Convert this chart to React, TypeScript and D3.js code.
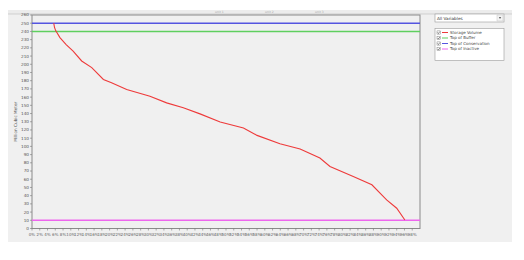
import * as d3 from "d3";

// exceedance percent (x) and storage volume (y)
const exceedance = [5.6, 5.8, 6.1, 7.2, 8.8, 10.6, 12.8, 15.4, 18.4, 20.5, 24.4, 30.4, 34.7, 39.0, 43.3, 48.5, 54.5, 58.0, 63.9, 69.1, 74.2, 76.8, 82.8, 87.6, 91.4, 94.0, 96.1];
const storage = [250, 245, 241, 232.5, 224, 216, 204, 196, 181.5, 177.5, 169.3, 161, 153, 147, 139.6, 129.8, 122.5, 113.4, 103.3, 96.8, 85.8, 75.5, 63.3, 53.2, 34.8, 24.7, 10.4];

const levelNames = ["Storage Volume", "Top of Buffer", "Top of Conservation", "Top of Inactive"];
const levelColors = ["#ee3a3a", "#5fcf5f", "#5555e0", "#ee66ee"];
const levelValues = [null, 240, 250, 10];

const yTicks = d3.range(0, 261, 10);
const xTicks = d3.range(0, 99, 2);

const W = 524;
const H = 260;
const plot = { left: 32, right: 420, top: 15, bottom: 228.5 };
const font = "'DejaVu Sans', sans-serif";

export default function App() {
  const x = d3.scaleLinear().domain([0, 100]).range([plot.left, plot.right]);
  const y = d3.scaleLinear().domain([0, 260]).range([plot.bottom, plot.top]);
  const line = d3
    .line<number>()
    .x((_, i) => x(exceedance[i]))
    .y((d) => y(d));

  return (
    <svg
      width={W}
      height={H}
      style={{ position: "absolute", left: 0, top: 0, display: "block" }}
    >
      <rect x={0} y={0} width={W} height={H} fill="#fff" />
      <rect x={8} y={10} width={504} height={232} fill="#f0f0f0" />
      {/* toolbar strip */}
      <rect x={8} y={10} width={504} height={4} fill="#ececec" />
      <line x1={8} x2={512} y1={14} y2={14} stroke="#c8c8c8" strokeWidth={0.8} />
      {["unit 1", "unit 2", "unit 3"].map((t, i) => (
        <text key={t} x={215 + i * 50} y={13} fontSize={3} fill="#aaa" fontFamily={font}>
          {t}
        </text>
      ))}

      {/* plot area */}
      <rect
        x={plot.left}
        y={plot.top}
        width={plot.right - plot.left}
        height={plot.bottom - plot.top}
        fill="#f0f0f0"
        stroke="#8a8a8a"
        strokeWidth={1}
      />

      {/* y axis */}
      {yTicks.map((t) => (
        <g key={t}>
          <line x1={plot.left - 2} x2={plot.left} y1={y(t)} y2={y(t)} stroke="#777" strokeWidth={0.6} />
          <text
            x={plot.left - 3}
            y={y(t)}
            dy="0.35em"
            textAnchor="end"
            fontSize={4.2}
            fill="#555"
            fontFamily={font}
          >
            {t}
          </text>
        </g>
      ))}
      <text
        transform={`translate(17,${(plot.top + plot.bottom) / 2}) rotate(-90)`}
        textAnchor="middle"
        fontSize={4.2}
        fill="#555"
        fontFamily={font}
      >
        Million Cubic Meter
      </text>

      {/* x axis */}
      {xTicks.map((t) => (
        <g key={t}>
          <line x1={x(t)} x2={x(t)} y1={plot.bottom} y2={plot.bottom + 2} stroke="#777" strokeWidth={0.6} />
          <text
            x={x(t)}
            y={plot.bottom + 7}
            textAnchor="middle"
            fontSize={4}
            fill="#666"
            fontFamily={font}
          >
            {t}%
          </text>
        </g>
      ))}

      {/* level lines */}
      {levelValues.map((v, i) =>
        v === null ? null : (
          <line
            key={levelNames[i]}
            x1={plot.left}
            x2={plot.right}
            y1={y(v)}
            y2={y(v)}
            stroke={levelColors[i]}
            strokeWidth={1.5}
          />
        )
      )}

      <path d={line(storage) ?? ""} fill="none" stroke={levelColors[0]} strokeWidth={1.1} />

      {/* variable selector */}
      <rect x={435} y={14} width={69} height={8} fill="#fff" stroke="#9a9a9a" strokeWidth={0.6} />
      <text x={437} y={19.5} fontSize={4.2} fill="#333" fontFamily={font}>
        All Variables
      </text>
      <rect x={497} y={15} width={6} height={6} fill="#f4f4f4" stroke="#bbb" strokeWidth={0.4} />
      <path d="M498.8,17.3 L501.2,17.3 L500,18.8 Z" fill="#333" />

      {/* legend */}
      <rect x={435} y={28.5} width={69} height={32} fill="#fff" stroke="#9a9a9a" strokeWidth={0.6} />
      {levelNames.map((name, i) => {
        const cy = 32.5 + i * 5.5;
        return (
          <g key={name}>
            <rect x={437} y={cy - 1.6} width={3.2} height={3.2} fill="#fff" stroke="#666" strokeWidth={0.4} />
            <path d={`M437.6,${cy} L438.5,${cy + 1} L439.8,${cy - 1}`} fill="none" stroke="#222" strokeWidth={0.5} />
            <line x1={442} x2={448} y1={cy} y2={cy} stroke={levelColors[i]} strokeWidth={1} />
            <text x={450} y={cy} dy="0.35em" fontSize={4} fill="#444" fontFamily={font}>
              {name}
            </text>
          </g>
        );
      })}
    </svg>
  );
}
